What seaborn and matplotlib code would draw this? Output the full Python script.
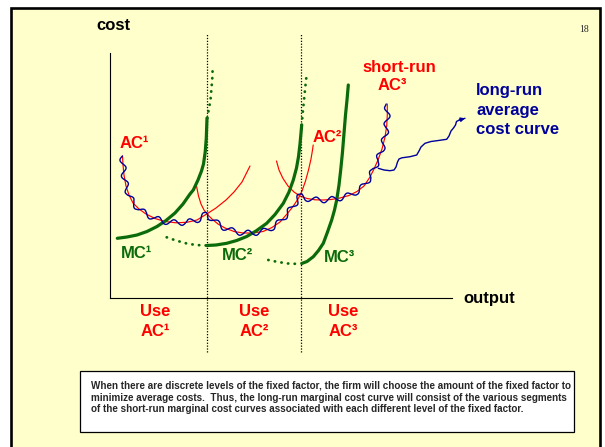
import matplotlib.pyplot as plt
from matplotlib.patches import Rectangle
import seaborn as sns

# short-run average cost curves (output, cost)
ac1_x = [1.25, 1.3, 1.4, 1.6, 1.9, 2.3, 2.9, 3.6, 4.5, 5.5, 6.6, 7.7, 8.7, 9.67, 10.6, 11.6, 12.4, 13.2, 14.0]
ac1_y = [14.2, 13.3, 12.3, 11.2, 10.3, 9.5, 8.9, 8.4, 7.95, 7.65, 7.52, 7.57, 7.8, 8.4, 9.0, 9.8, 10.6, 11.6, 13.2]
ac2_x = [8.65, 8.85, 9.1, 9.4, 9.7, 10.2, 10.8, 11.5, 12.4, 13.3, 14.3, 15.3, 16.2, 17.0, 17.7, 18.3, 18.8,
         19.2, 19.55, 19.85, 20.1, 20.25, 20.32]
ac2_y = [11.2, 10.2, 9.4, 8.8, 8.4, 7.9, 7.4, 7.0, 6.65, 6.5, 6.5, 6.65, 7.05, 7.6, 8.4, 9.15, 9.9,
         10.7, 11.7, 12.8, 13.9, 14.8, 15.3]
ac3_x = [16.65, 16.9, 17.3, 17.8, 18.4, 19.0, 19.7, 20.5, 21.3, 22.1, 23.0, 23.9, 24.7, 25.4, 26.0, 26.4,
         26.8, 27.2, 27.5, 27.67, 27.73, 27.73]
ac3_y = [13.7, 12.8, 11.95, 11.2, 10.6, 10.2, 9.95, 9.82, 9.8, 9.85, 10.0, 10.25, 10.65, 11.2, 12.1, 12.9,
         13.8, 14.9, 16.1, 17.2, 18.3, 19.4]

# short-run marginal cost curves: solid part and dotted (unused) parts
mc1_x = [0.73, 1.7, 2.7, 3.7, 4.7, 5.6, 6.5, 7.3, 8.0, 8.33, 8.8, 9.15, 9.35, 9.52, 9.63, 9.7]
mc1_y = [5.97, 6.1, 6.3, 6.65, 7.15, 7.75, 8.5, 9.4, 10.4, 10.8, 11.8, 12.7, 13.4, 14.6, 16.0, 18.0]
mc1_dot_x = [9.73, 9.9, 10.05, 10.15, 10.23, 10.26]
mc1_dot_y = [18.0, 19.0, 19.8, 21.0, 22.0, 22.8]
mc2_x = [9.67, 10.6, 11.67, 12.67, 13.67, 14.6, 15.67, 16.5, 17.33, 17.9, 18.33, 18.65, 18.85, 19.0, 19.1, 19.17]
mc2_y = [5.25, 5.3, 5.47, 5.75, 6.15, 6.7, 7.47, 8.35, 9.47, 10.6, 11.8, 13.0, 14.13, 15.4, 16.5, 17.3]
mc2_dot_lo_x = [5.67, 6.6, 7.67, 8.6, 9.67]
mc2_dot_lo_y = [6.07, 5.75, 5.45, 5.3, 5.25]
mc2_dot_hi_x = [19.17, 19.3, 19.45, 19.55, 19.65]
mc2_dot_hi_y = [17.3, 18.8, 20.3, 21.3, 22.2]
mc3_x = [19.17, 19.7, 20.33, 20.85, 21.33, 21.75, 22.17, 22.45, 22.67, 22.9, 23.07, 23.25, 23.4, 23.55, 23.7, 23.83]
mc3_y = [3.45, 3.65, 4.13, 4.75, 5.47, 6.6, 7.8, 8.8, 9.8, 11.3, 12.8, 14.6, 16.47, 18.3, 19.8, 21.3]
mc3_dot_x = [15.83, 16.8, 17.8, 19.0]
mc3_dot_y = [3.8, 3.6, 3.45, 3.4]

# long-run average cost = lower envelope of the short-run curves
lrac_x = ac1_x[:14] + ac2_x[4:17] + ac3_x[5:]
lrac_y = ac1_y[:14] + ac2_y[4:17] + ac3_y[5:]

# squiggly pointer from the label to the curve
ptr_x = [26.83, 27.4, 28.0, 28.4, 28.6, 28.75, 28.9, 29.2, 30.0, 30.67, 30.9, 31.1, 31.5, 32.1, 32.7, 33.67,
         33.9, 34.1, 34.35, 34.55, 34.65, 34.93, 35.5]
ptr_y = [12.97, 12.8, 12.73, 12.8, 13.1, 13.6, 13.9, 14.02, 14.13, 14.3, 14.7, 15.1, 15.47, 15.65, 15.73, 15.87,
         16.2, 16.7, 17.0, 17.3, 17.65, 17.8, 17.97]

plant_centres = [4.5, 14.4, 23.3]
plant_labels = ['AC¹', 'AC²', 'AC³']
plant_bounds = [9.7, 19.07]

note_lines = [
    'When there are discrete levels of the fixed factor, the firm will choose the amount of the fixed factor to',
    'minimize average costs.  Thus, the long-run marginal cost curve will consist of the various segments',
    'of the short-run marginal cost curves associated with each different level of the fixed factor.',
]

RED = '#ff0000'
GREEN = '#0b6b0b'
BLUE = '#00009c'
YELLOW = '#ffffcc'

sns.set_style('white')
plt.rcParams['font.family'] = ['Liberation Sans', 'DejaVu Sans']

W, H = 605, 447
fig = plt.figure(figsize=(W / 100, H / 100), dpi=100)
fig.patch.set_facecolor('white')


def fx(px):
    return px / W


def fy(py):
    return 1 - py / H


# slide frame and note box
fig.add_artist(Rectangle((fx(11), fy(480)), fx(599.5) - fx(11), fy(8) - fy(480), transform=fig.transFigure,
                         facecolor=YELLOW, edgecolor='black', lw=1.9, zorder=-2))
fig.add_artist(Rectangle((fx(79.5), fy(432)), fx(574) - fx(79.5), fy(371) - fy(432), transform=fig.transFigure,
                         facecolor='white', edgecolor='black', lw=0.9, zorder=-1))
for i, line in enumerate(note_lines):
    fig.text(fx(91), fy(386 + 11.7 * i), line, fontsize=7.1, fontweight='bold', va='center', ha='left')
fig.text(fx(584.5), fy(29), '18', fontsize=7, family='Liberation Serif', ha='center', va='center')

ax = fig.add_axes([fx(110), fy(298), (452 - 110) / W, (298 - 53) / H])
ax.set_facecolor('none')
ax.set_xlim(0, 34.2)
ax.set_ylim(0, 24.5)
ax.set_xticks([])
ax.set_yticks([])
for side in ['top', 'right']:
    ax.spines[side].set_visible(False)
for side in ['left', 'bottom']:
    ax.spines[side].set_color('black')
    ax.spines[side].set_linewidth(0.8)


def curve(x, y, color, lw, ls='-', z=2):
    sns.lineplot(x=x, y=y, sort=False, estimator=None, color=color, linewidth=lw, linestyle=ls,
                 dash_capstyle='round', zorder=z, clip_on=False, ax=ax)
    return ax.lines[-1]


for x, y in [(ac1_x, ac1_y), (ac2_x, ac2_y), (ac3_x, ac3_y)]:
    curve(x, y, RED, 0.85, z=2)

lrac = curve(lrac_x, lrac_y, BLUE, 1.0, z=4)
lrac.set_sketch_params(2.8, 16, 1)
curve(ptr_x, ptr_y, BLUE, 1.0, z=4)
ax.annotate('', xy=(ptr_x[-1], ptr_y[-1]), xytext=(ptr_x[-2], ptr_y[-2]), annotation_clip=False,
            arrowprops=dict(arrowstyle='-|>', color=BLUE, lw=1.0, mutation_scale=6, shrinkA=0, shrinkB=0))

for x, y in [(mc1_x, mc1_y), (mc2_x, mc2_y), (mc3_x, mc3_y)]:
    curve(x, y, GREEN, 2.3, z=3)
for x, y in [(mc1_dot_x, mc1_dot_y), (mc2_dot_lo_x, mc2_dot_lo_y), (mc2_dot_hi_x, mc2_dot_hi_y),
             (mc3_dot_x, mc3_dot_y)]:
    curve(x, y, GREEN, 2.0, ls=(0, (0.1, 2.3)), z=3)

ax.vlines(plant_bounds, -5.4, 26.5, colors='black', linestyles=(0, (1, 1.3)), linewidth=0.9, clip_on=False)

lab = dict(fontsize=12, fontweight='bold', clip_on=False)
ax.text(0.3, 27.2, 'cost', color='black', ha='center', va='center', **lab)
ax.text(35.3, 0, 'output', color='black', ha='left', va='center', **lab)
for xc, name in zip(plant_centres, plant_labels):
    ax.text(xc, -1.4, 'Use', color=RED, ha='center', va='center', **lab)
    ax.text(xc, -3.3, name, color=RED, ha='center', va='center', **lab)

ax.text(1.0, 15.4, 'AC¹', color=RED, ha='left', va='center', **lab)
ax.text(20.3, 16.1, 'AC²', color=RED, ha='left', va='center', **lab)
ax.text(28.95, 23.1, 'short-run', color=RED, ha='center', va='center', **lab)
ax.text(28.25, 21.2, 'AC³', color=RED, ha='center', va='center', **lab)
ax.text(1.1, 4.5, 'MC¹', color=GREEN, ha='left', va='center', **lab)
ax.text(11.2, 4.2, 'MC²', color=GREEN, ha='left', va='center', **lab)
ax.text(21.4, 4.1, 'MC³', color=GREEN, ha='left', va='center', **lab)
for i, word in enumerate(['long-run', 'average', 'cost curve']):
    ax.text(36.6, 20.7 - 1.95 * i, word, color=BLUE, ha='left', va='center', **lab)

fig.savefig('out.png', dpi=100)
